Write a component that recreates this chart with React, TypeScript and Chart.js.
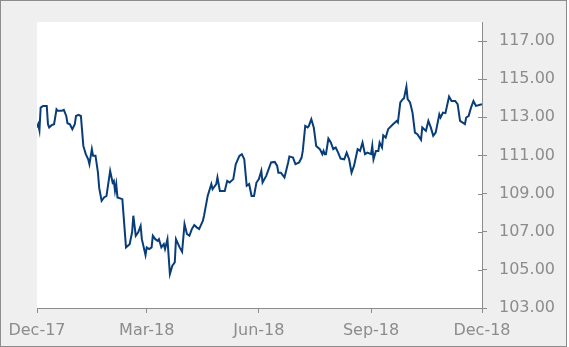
import React, { useEffect, useRef } from "react";
import { Chart, registerables } from "chart.js";

Chart.register(...registerables);

// Days since 1 Dec 2017
const days = [
  0, 1, 2, 3, 5, 8, 9, 10, 12, 14,
  16, 17, 20, 22, 24, 25, 27, 29, 31, 32,
  34, 36, 38, 40, 42, 43, 45, 46, 48, 50,
  51, 53, 55, 57, 60, 62, 63, 64, 65, 66,
  70, 73, 76, 78, 79, 81, 83, 85, 86, 89,
  90, 92, 94, 95, 97, 99, 100, 102, 104, 105,
  107, 109, 111, 113, 114, 117, 119, 121, 123, 125,
  127, 129, 131, 133, 136, 137, 140, 143, 144, 147,
  148, 150, 154, 156, 158, 161, 163, 166, 168, 170,
  172, 174, 176, 178, 180, 182, 184, 185, 188, 192,
  195, 197, 198, 200, 203, 206, 207, 210, 212, 215,
  217, 218, 220, 222, 223, 225, 227, 229, 232, 234,
  235, 236, 237, 239, 241, 243, 245, 247, 249, 252,
  254, 256, 258, 260, 263, 265, 267, 269, 271, 274,
  275, 276, 278, 280, 281, 283, 284, 286, 288, 292,
  295, 296, 298, 300, 301, 303, 304, 306, 308, 310,
  312, 315, 316, 319, 321, 323, 325, 327, 330, 331,
  333, 335, 338, 340, 343, 345, 347, 351, 352, 354,
  356, 358, 360, 362, 365,
];

const values = [
  112.47, 112.64, 112.32, 113.51, 113.6, 113.6, 112.64, 112.47, 112.59, 112.64,
  113.42, 113.34, 113.34, 113.39, 113.07, 112.69, 112.64, 112.38, 112.64, 113.07,
  113.13, 113.07, 111.5, 111.07, 110.8, 110.54, 111.33, 110.98, 110.98, 110.1,
  109.3, 108.62, 108.8, 108.88, 110.19, 109.58, 109.67, 109.14, 109.5, 108.8,
  108.71, 106.18, 106.35, 106.97, 107.84, 106.79, 106.97, 107.31, 106.61, 105.78,
  106.18, 106.09, 106.18, 106.79, 106.61, 106.52, 106.61, 106.18, 106.35, 106.09,
  106.61, 104.78, 105.22, 105.39, 106.61, 106.18, 105.95, 107.4, 106.88, 106.79,
  107.14, 107.35, 107.23, 107.14, 107.57, 107.84, 108.88, 109.5, 109.23, 109.5,
  109.85, 109.14, 109.14, 109.67, 109.58, 109.76, 110.54, 110.98, 111.07, 110.8,
  109.41, 109.5, 108.88, 108.88, 109.58, 109.76, 110.19, 109.58, 109.93, 110.63,
  110.66, 110.45, 110.1, 110.1, 109.85, 110.63, 110.95, 110.89, 110.54, 110.63,
  110.89, 111.24, 112.55, 112.47, 112.55, 112.9, 112.47, 111.5, 111.33, 111.07,
  111.24, 111.07, 111.07, 111.89, 111.68, 111.33, 111.42, 111.15, 110.84, 110.8,
  111.15, 110.8, 110.1, 110.45, 111.33, 111.24, 111.68, 111.07, 111.15, 111.07,
  111.5, 110.8, 111.24, 111.24, 111.68, 111.42, 112.06, 111.94, 112.38, 112.64,
  112.81, 112.73, 113.78, 113.95, 113.99, 114.61, 113.95, 113.78, 113.25, 112.2,
  112.11, 111.82, 112.47, 112.29, 112.81, 112.47, 112.03, 112.2, 113.16, 112.99,
  113.25, 113.22, 114.09, 113.86, 113.86, 113.69, 112.81, 112.64, 112.99, 113.07,
  113.51, 113.86, 113.6, 113.63, 113.69,
];

const xTickDays = [0, 90, 182, 274, 365];
const xTickLabels = ["Dec-17", "Mar-18", "Jun-18", "Sep-18", "Dec-18"];
const yTickValues = [103, 105, 107, 109, 111, 113, 115, 117];

const W = 569;
const H = 347;
const AXIS = "#8c8c8c";
const TEXT = "#8c8c8c";
const FONT = { family: "'DejaVu Sans', Verdana, sans-serif", size: 16 };

const framePlugin = {
  id: "frame",
  beforeDraw(chart: any) {
    const ctx = chart.ctx;
    const a = chart.chartArea;
    ctx.save();
    ctx.fillStyle = "#efefef";
    ctx.fillRect(0, 0, 567, 347);
    ctx.fillStyle = "#ffffff";
    ctx.fillRect(a.left, a.top, a.right - a.left, a.bottom - a.top);
    ctx.strokeStyle = "#8c8c8c";
    ctx.lineWidth = 1;
    ctx.strokeRect(0.5, 0.5, 566, 346);
    ctx.restore();
  },
  afterDraw(chart: any) {
    const ctx = chart.ctx;
    const y = chart.scales.y;
    const a = chart.chartArea;
    ctx.save();
    ctx.strokeStyle = AXIS;
    ctx.lineWidth = 1;
    ctx.beginPath();
    for (const v of yTickValues) {
      const py = Math.round(y.getPixelForValue(v)) + 0.5;
      ctx.moveTo(a.right - 4, py);
      ctx.lineTo(a.right, py);
    }
    ctx.stroke();
    ctx.restore();
  },
};

export default function App() {
  const ref = useRef<HTMLCanvasElement>(null);

  useEffect(() => {
    if (!ref.current) return;
    const chart = new Chart(ref.current, {
      type: "line",
      data: {
        datasets: [
          {
            data: days.map((d, i) => ({ x: d, y: values[i] })),
            borderColor: "#083d7a",
            borderWidth: 2,
            pointRadius: 0,
            tension: 0,
            fill: false,
          },
        ],
      },
      options: {
        animation: false,
        responsive: false,
        devicePixelRatio: 1,
        layout: { padding: { left: 37, top: 22, right: 0, bottom: 0 } },
        plugins: {
          legend: { display: false },
          tooltip: { enabled: false },
        },
        scales: {
          x: {
            type: "linear",
            position: "bottom",
            min: 0,
            max: 365,
            afterBuildTicks: (s: any) => {
              s.ticks = xTickDays.map((v) => ({ value: v }));
            },
            afterFit: (s: any) => {
              s.height = H - 308;
            },
            ticks: {
              autoSkip: false,
              maxRotation: 0,
              padding: 8,
              color: TEXT,
              font: FONT,
              callback: (v: any) => {
                const i = xTickDays.indexOf(Number(v));
                return i >= 0 ? xTickLabels[i] : "";
              },
            },
            grid: {
              display: true,
              drawOnChartArea: false,
              drawTicks: true,
              tickLength: 5,
              color: AXIS,
            },
            border: { display: true, color: AXIS, width: 1 },
          },
          y: {
            type: "linear",
            position: "right",
            min: 103,
            max: 118,
            afterBuildTicks: (s: any) => {
              s.ticks = yTickValues.map((v) => ({ value: v }));
            },
            afterFit: (s: any) => {
              s.width = W - 482;
            },
            ticks: {
              padding: 12,
              color: TEXT,
              font: FONT,
              callback: (v: any) => Number(v).toFixed(2),
            },
            grid: {
              display: true,
              drawOnChartArea: false,
              drawTicks: true,
              tickLength: 5,
              color: AXIS,
            },
            border: { display: true, color: AXIS, width: 1 },
          },
        },
      },
      plugins: [framePlugin],
    });
    return () => chart.destroy();
  }, []);

  return (
    <div style={{ position: "fixed", left: 0, top: 0, width: W, height: H, background: "#ffffff" }}>
      <canvas ref={ref} width={W} height={H} style={{ width: W, height: H, display: "block" }} />
    </div>
  );
}
